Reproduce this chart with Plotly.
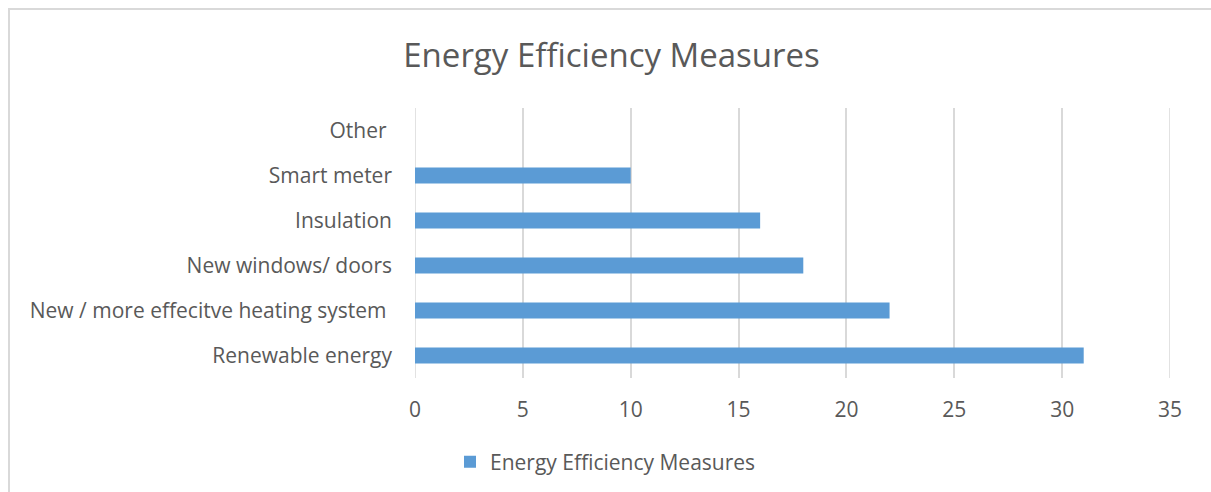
import plotly.graph_objects as go

categories = ["Renewable energy", "New / more effecitve heating system ", "New windows/ doors",
              "Insulation", "Smart meter", "Other "]
values = [31, 22, 18, 16, 10, 0]
series_name = "Energy Efficiency Measures"
title_text = "Energy Efficiency Measures"
x_ticks = [0, 5, 10, 15, 20, 25, 30, 35]
x_range = [0, 35]

FONT = "Open Sans"
GREY = "#595959"
GRID = "#d9d9d9"
LABEL_SIZE = 21

fig = go.Figure()
fig.add_trace(go.Bar(
    x=values, y=categories, orientation="h", name=series_name,
    marker=dict(color="#5b9bd5", line=dict(width=0)), width=0.36,
    showlegend=True,
))

fig.update_layout(
    width=1211, height=492,
    margin=dict(l=415, r=41, t=108, b=114),
    paper_bgcolor="white", plot_bgcolor="white",
    font=dict(family=FONT, color=GREY, size=LABEL_SIZE),
    title=dict(text=title_text, x=0.505, xref="container", xanchor="center",
               y=1 - 55 / 492, yref="container", yanchor="middle",
               font=dict(family=FONT, size=33, color=GREY)),
    showlegend=True,
    legend=dict(orientation="h", x=0.5, xref="container", xanchor="center",
                y=1 - 462 / 492, yref="container", yanchor="middle",
                font=dict(family=FONT, size=LABEL_SIZE, color=GREY)),
    xaxis=dict(range=x_range, tickvals=x_ticks, showgrid=True, gridcolor=GRID,
               gridwidth=1.5, zeroline=False, showline=False, ticks="",
               ticklabelstandoff=17, tickfont=dict(size=LABEL_SIZE, color=GREY)),
    yaxis=dict(type="category", range=[-0.5, 5.5], showgrid=False, zeroline=False,
               showline=False, ticks="", ticklabelstandoff=22,
               tickfont=dict(size=LABEL_SIZE, color=GREY)),
    bargap=0.64,
)

# gridlines at both ends of the value axis (plotly omits them at the range edges)
for xv in (x_range[0], x_range[1]):
    fig.add_vline(x=xv, line=dict(color=GRID, width=1.5), layer="below")

# chart border (Excel chart area outline)
fig.add_shape(type="rect", xref="paper", yref="paper",
              x0=(9 - 415) / 755, x1=2.0, y0=-2.0, y1=(378 - 9) / 270,
              line=dict(color=GRID, width=2), fillcolor="rgba(0,0,0,0)", layer="below")

fig.write_html("out.html", config={"displayModeBar": False},
               post_script="document.body.style.margin='0';document.body.style.padding='0';")
